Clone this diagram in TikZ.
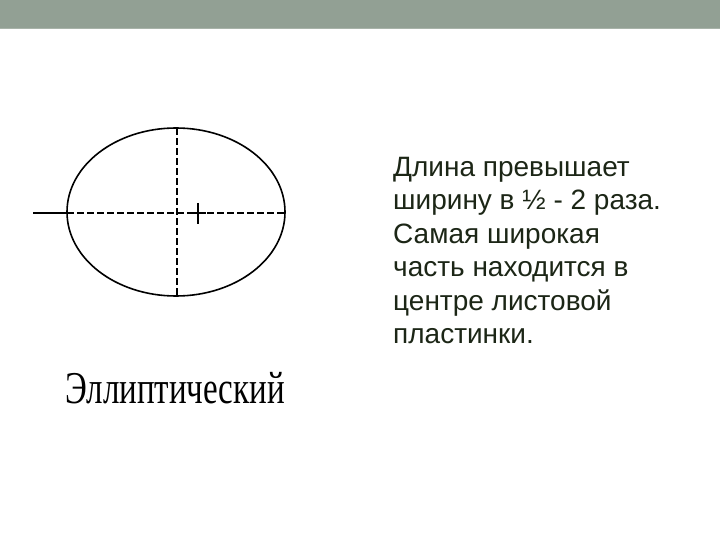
\documentclass[tikz,border=0pt]{standalone}
\usepackage{fontspec}
\setmainfont{Liberation Sans}
\newfontfamily\serifcap{Liberation Serif}
\definecolor{barcol}{HTML}{92A094}
\definecolor{txtcol}{HTML}{1C2616}
\begin{document}
\begin{tikzpicture}[x=1pt,y=-1pt,
  leafline/.style={line width=1.6pt,black},
  axis/.style={line width=1.3pt,black,dash pattern=on 7pt off 3pt},
  desc/.style={anchor=north west,align=left,text=txtcol,font=\fontsize{28}{33.5}\selectfont,inner sep=0pt},
  capt/.style={anchor=base west,inner sep=0pt,font=\serifcap\fontsize{33}{33}\selectfont}]
\useasboundingbox (0,0) rectangle (720,540);
\fill[barcol] (0,0) rectangle (720,28);
\draw[barcol!80!white,line width=1pt] (0,29) -- (720,29);
\draw[leafline] (176,212) ellipse [x radius=109, y radius=84];
\coordinate (L) at (33,213);
\coordinate (El) at (67,213);
\coordinate (Er) at (285,213);
\coordinate (T) at (177,128);
\coordinate (B) at (177,296);
\draw[line width=1.3pt] (L) -- (El);
\draw[axis] (El) -- (Er);
\draw[axis] (T) -- (B);
\draw[line width=1.5pt] (198,203) -- (198,224);
\draw[line width=1.5pt] (190,213) -- (206,213);
\node[desc] (d) at (393,157) {Длина превышает\\ширину в ½ - 2 раза.\\Самая широкая\\часть находится в\\центре листовой\\пластинки.};
\node[capt] (c) at (65,403) {\scalebox{1}[1.38]{Эллиптический}};
\end{tikzpicture}
\end{document}
